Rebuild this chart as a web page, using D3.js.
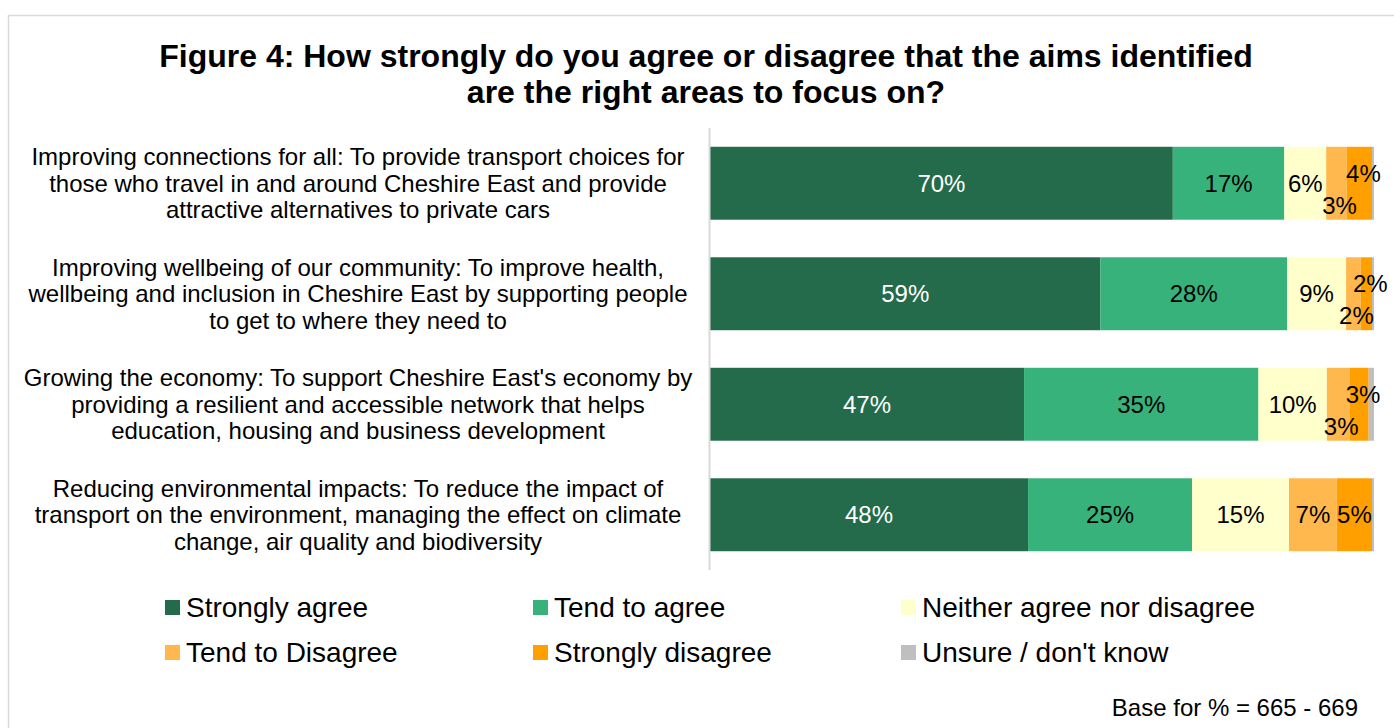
<!DOCTYPE html>
<html>
<head>
<meta charset="utf-8">
<script src="https://cdn.jsdelivr.net/npm/d3@7/dist/d3.min.js"></script>
<style>
  html, body { margin: 0; padding: 0; background: #ffffff; }
  svg { display: block; font-family: "Liberation Sans", Arial, sans-serif; }
</style>
</head>
<body>
<svg id="chart" width="1394" height="728"></svg>
<script>
// Aims (each label split into its wrapped lines)
const aims = [
  ["Improving connections for all: To provide transport choices for",
   "those who travel in and around Cheshire East and provide",
   "attractive alternatives to private cars"],
  ["Improving wellbeing of our community: To improve health,",
   "wellbeing and inclusion in Cheshire East by supporting people",
   "to get to where they need to"],
  ["Growing the economy: To support Cheshire East's economy by",
   "providing a resilient and accessible network that helps",
   "education, housing and business development"],
  ["Reducing environmental impacts: To reduce the impact of",
   "transport on the environment, managing the effect on climate",
   "change, air quality and biodiversity"]
];

const responses = ["Strongly agree", "Tend to agree", "Neither agree nor disagree",
                   "Tend to Disagree", "Strongly disagree", "Unsure / don't know"];

// Percentage of respondents per response, one array per aim (same order as aims)
const stronglyAgree    = [69.7, 58.8, 47.3, 47.9];
const tendToAgree      = [16.8, 28.1, 35.3, 24.7];
const neither          = [6.3, 8.9, 10.3, 14.6];
const tendToDisagree   = [3.1, 2.2, 3.4, 7.2];
const stronglyDisagree = [3.8, 1.7, 2.9, 5.3];
const unsure           = [0.3, 0.3, 0.8, 0.3];

const colours = ["#236b4b", "#37b27b", "#ffffcc", "#ffb84d", "#ffa000", "#bfbfbf"];

const titleLines = ["Figure 4: How strongly do you agree or disagree that the aims identified",
                    "are the right areas to focus on?"];
const baseNote = "Base for % = 665 - 669";

// Assemble rows for stacking
const keys = responses;
const rows = aims.map((a, i) => ({
  idx: i,
  [keys[0]]: stronglyAgree[i],
  [keys[1]]: tendToAgree[i],
  [keys[2]]: neither[i],
  [keys[3]]: tendToDisagree[i],
  [keys[4]]: stronglyDisagree[i],
  [keys[5]]: unsure[i]
}));

const svg = d3.select("#chart");

// Chart frame
svg.append("rect")
  .attr("x", 8.5).attr("y", 15.5)
  .attr("width", 1400).attr("height", 730)
  .attr("fill", "none").attr("stroke", "#d9d9d9").attr("stroke-width", 1.5);

// Title
svg.append("g").selectAll("text")
  .data(titleLines)
  .join("text")
  .attr("x", 706)
  .attr("y", (d, i) => 67 + i * 36)
  .attr("text-anchor", "middle")
  .attr("font-size", 32)
  .attr("font-weight", "bold")
  .attr("fill", "#000")
  .text(d => d);

const x = d3.scaleLinear().domain([0, 100]).range([710, 1374]);
const y = d3.scaleBand().domain(d3.range(aims.length)).range([128, 570]).paddingInner(0.34).paddingOuter(0.17);

const stack = d3.stack().keys(keys);
const series = stack(rows);

const barG = svg.append("g");
series.forEach((s, k) => {
  barG.append("g")
    .attr("fill", colours[k])
    .selectAll("rect")
    .data(s)
    .join("rect")
    .attr("x", d => x(d[0]))
    .attr("y", (d, i) => y(i))
    .attr("width", d => x(d[1]) - x(d[0]))
    .attr("height", y.bandwidth());
});

// Category axis line
svg.append("line")
  .attr("x1", 709.5).attr("x2", 709.5)
  .attr("y1", 128).attr("y2", 570)
  .attr("stroke", "#d9d9d9").attr("stroke-width", 2);

// Value labels
const fmt = v => d3.format(".0f")(v) + "%";
const labelG = svg.append("g").attr("font-size", 24);
series.forEach((s, k) => {
  if (k === 5) return; // unsure slivers are not labelled
  s.forEach((d, i) => {
    const v = d[1] - d[0];
    const narrow = tendToDisagree[i] < 4.5 || stronglyDisagree[i] < 4.5;
    let dy = 0, dx = 0;
    if (narrow && k === 3) { dy = 22; dx = 3; }
    if (narrow && k === 4) { dy = -10; dx = 4; }
    labelG.append("text")
      .attr("x", (x(d[0]) + x(d[1])) / 2 + dx)
      .attr("y", y(i) + y.bandwidth() / 2 + dy)
      .attr("dy", "0.35em")
      .attr("text-anchor", "middle")
      .attr("fill", k === 0 ? "#ffffff" : "#000000")
      .text(fmt(v));
  });
});

// Aim labels
const catG = svg.append("g").attr("font-size", 24).attr("fill", "#000");
aims.forEach((lines, i) => {
  const cy = y(i) + y.bandwidth() / 2;
  catG.append("text")
    .attr("text-anchor", "middle")
    .selectAll("tspan")
    .data(lines)
    .join("tspan")
    .attr("x", 358)
    .attr("y", (d, j) => cy + (j - 1) * 26.5)
    .attr("dy", "0.35em")
    .text(d => d);
});

// Legend
const legendG = svg.append("g").attr("font-size", 28);
responses.forEach((r, k) => {
  const col = k % 3, row = Math.floor(k / 3);
  const lx = 165 + col * 368, ly = 607.5 + row * 45;
  legendG.append("rect")
    .attr("x", lx).attr("y", ly - 7.5)
    .attr("width", 15).attr("height", 15)
    .attr("fill", colours[k]);
  legendG.append("text")
    .attr("x", lx + 21).attr("y", ly)
    .attr("dy", "0.35em")
    .attr("fill", "#000")
    .text(r);
});

// Base note
svg.append("text")
  .attr("x", 1358).attr("y", 708)
  .attr("dy", "0.35em")
  .attr("text-anchor", "end")
  .attr("font-size", 24)
  .attr("fill", "#000")
  .text(baseNote);
</script>
</body>
</html>
